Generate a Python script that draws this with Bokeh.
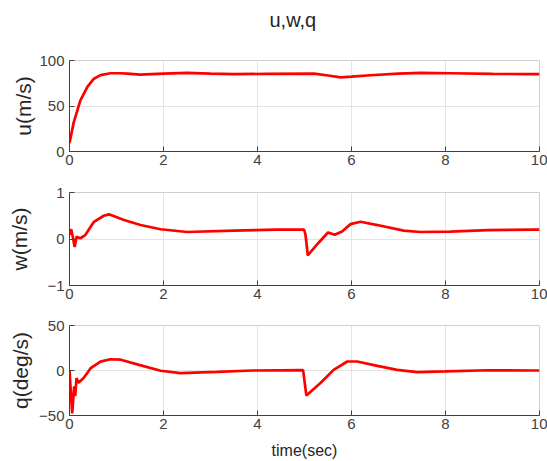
from bokeh.plotting import figure
from bokeh.layouts import column
from bokeh.models import FixedTicker, Title
from bokeh.embed import file_html
from bokeh.resources import INLINE

# ---- data ----
t_u = [0, 0.09, 0.23, 0.38, 0.52, 0.66, 0.87, 1.08, 1.23, 1.5, 2.0, 2.5, 3.0, 3.5,
       4.2, 5.2, 5.5, 5.77, 6.0, 6.4, 7.0, 7.47, 8.1, 9.0, 9.8, 10]
u = [9.3, 32, 56, 71, 80, 84, 86, 86, 85.5, 84.5, 85.5, 86.5, 85.5, 85,
     85.3, 85.5, 83.5, 81.5, 82.2, 83.8, 85.5, 86.5, 86, 85.3, 85, 85]

t_w = [0, 0.035, 0.07, 0.11, 0.15, 0.23, 0.34, 0.52, 0.73, 0.84, 1.16, 1.51, 1.94,
       2.5, 3.5, 4.4, 4.99, 5.02, 5.07, 5.3, 5.5, 5.64, 5.8, 5.98, 6.19, 6.55,
       7.11, 7.47, 8.1, 8.9, 9.9, 10]
w = [0.09, 0.21, 0.05, -0.17, 0.05, 0.015, 0.09, 0.37, 0.5, 0.53, 0.41, 0.3, 0.21,
     0.15, 0.18, 0.2, 0.2, 0.1, -0.35, -0.08, 0.14, 0.09, 0.16, 0.32, 0.37, 0.3,
     0.18, 0.15, 0.16, 0.19, 0.2, 0.2]

t_q = [0, 0.057, 0.1, 0.12, 0.15, 0.19, 0.3, 0.45, 0.66, 0.87, 1.09, 1.5, 1.94,
       2.36, 3.14, 3.9, 4.97, 5.04, 5.34, 5.62, 5.91, 6.12, 6.55, 6.97, 7.4, 8.0,
       8.9, 9.9, 10]
q = [0, -47.6, -17.6, -28.6, -8.4, -13.7, -8.4, 2.6, 9.9, 12.5, 12, 6, -0.3,
     -2.9, -1.5, 0, 0.5, -27.8, -13.9, 0.7, 10, 10, 5.1, 0.7, -1.8, -1,
     0.3, 0, 0]

x_ticks = [0, 2, 4, 6, 8, 10]
u_ticks = [0, 50, 100]
w_ticks = [-1, 0, 1]
q_ticks = [-50, 0, 50]

FONT = "Liberation Sans"
AX = "#404040"
TXT = "#262626"
GRID = "#e4e4e4"


def make(h, top, bottom, yr, yticks, ylabel, lab_standoff):
    p = figure(width=547, height=h, output_backend="svg", toolbar_location=None,
               tools="", x_range=(0, 10), y_range=yr,
               min_border_left=69, min_border_right=8,
               min_border_top=top, min_border_bottom=bottom)
    p.outline_line_color = "#d0d0d0"
    p.xaxis.ticker = FixedTicker(ticks=x_ticks)
    p.yaxis.ticker = FixedTicker(ticks=yticks)
    for ax in (p.xaxis, p.yaxis):
        ax.axis_line_color = AX
        ax.major_tick_line_color = AX
        ax.major_tick_in = 5
        ax.major_tick_out = 0
        ax.minor_tick_in = 0
        ax.minor_tick_out = 0
        ax.major_label_text_font = FONT
        ax.major_label_text_font_size = "15px"
        ax.major_label_text_color = AX
        ax.major_label_standoff = 5
    p.xaxis.major_label_standoff = 3
    p.yaxis.axis_label = ylabel
    p.yaxis.axis_label_text_font = FONT
    p.yaxis.axis_label_text_font_size = "21px"
    p.yaxis.axis_label_text_font_style = "normal"
    p.yaxis.axis_label_text_color = TXT
    p.yaxis.axis_label_standoff = lab_standoff
    p.xgrid.grid_line_color = GRID
    p.ygrid.grid_line_color = GRID
    return p


p1 = make(171, 60, 20, (0, 100), u_ticks, "u(m/s)", 1)
p1.line(t_u, u, line_color="#ff0000", line_width=2.7)
p1.add_layout(Title(text=" ", text_font_size="21px", standoff=0), "above")
p1.title.text = "u,w,q"
p1.title.align = "left"
p1.title.offset = 200
p1.title.text_font = FONT
p1.title.text_font_size = "20px"
p1.title.text_font_style = "normal"
p1.title.text_color = TXT

p2 = make(134, 21, 20, (-1, 1), w_ticks, "w(m/s)", 13)
p2.line(t_w, w, line_color="#ff0000", line_width=2.7)

p3 = make(156, 20, 45, (-50, 50), q_ticks, "q(deg/s)", 4)
p3.line(t_q, q, line_color="#ff0000", line_width=2.7)
p3.xaxis.axis_label = "time(sec)"
p3.xaxis.axis_label_text_font = FONT
p3.xaxis.axis_label_text_font_size = "16px"
p3.xaxis.axis_label_text_font_style = "normal"
p3.xaxis.axis_label_text_color = TXT
p3.xaxis.axis_label_standoff = 10

layout = column(p1, p2, p3)
open("out.html", "w").write(file_html(layout, INLINE))
